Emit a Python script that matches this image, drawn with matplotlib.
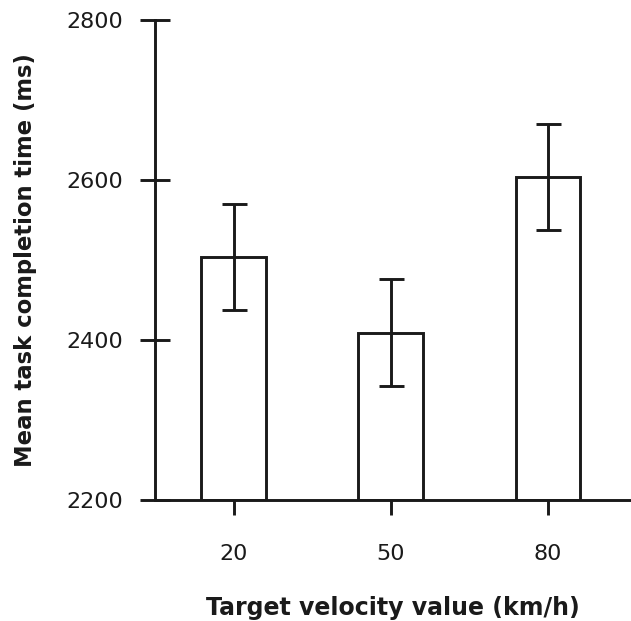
import matplotlib
matplotlib.use('Agg')
import matplotlib.pyplot as plt

# Data
velocities = ['20', '50', '80']
mean_time = [2504, 2409, 2604]
err_low = [67, 67, 67]
err_high = [66, 67, 66]

fig = plt.figure(figsize=(6.31, 6.21), dpi=100)
ax = fig.add_axes([0.2456, 0.1948, 0.7544, 0.7730])

x = range(len(velocities))
ax.bar(x, [m - 2200 for m in mean_time], bottom=2200, width=0.41,
       color='white', edgecolor='#1a1a1a', linewidth=2.1, zorder=2)
ax.errorbar(x, mean_time, yerr=[err_low, err_high], fmt='none',
            ecolor='#1a1a1a', elinewidth=2.1, capsize=9, capthick=2.1, zorder=3)

ax.set_xlim(-0.5, 2.53)
ax.set_ylim(2200, 2800)
ax.set_yticks([2200, 2400, 2600, 2800])
ax.set_xticks(list(x))
ax.set_xticklabels(velocities)

for side in ['top', 'right']:
    ax.spines[side].set_visible(False)
for side in ['left', 'bottom']:
    ax.spines[side].set_linewidth(2.1)
    ax.spines[side].set_color('#1a1a1a')

ax.tick_params(axis='both', direction='inout', length=22, width=2.1,
               color='#1a1a1a', labelsize=16, labelcolor='#1a1a1a')
ax.tick_params(axis='x', pad=21)
ax.tick_params(axis='y', pad=12)

ax.set_xlabel('Target velocity value (km/h)', fontsize=17, fontweight='bold',
              color='#1a1a1a', labelpad=23)
ax.set_ylabel('Mean task completion time (ms)', fontsize=16.4, fontweight='bold',
              color='#1a1a1a', labelpad=21)

fig.savefig('out.png', dpi=100)
